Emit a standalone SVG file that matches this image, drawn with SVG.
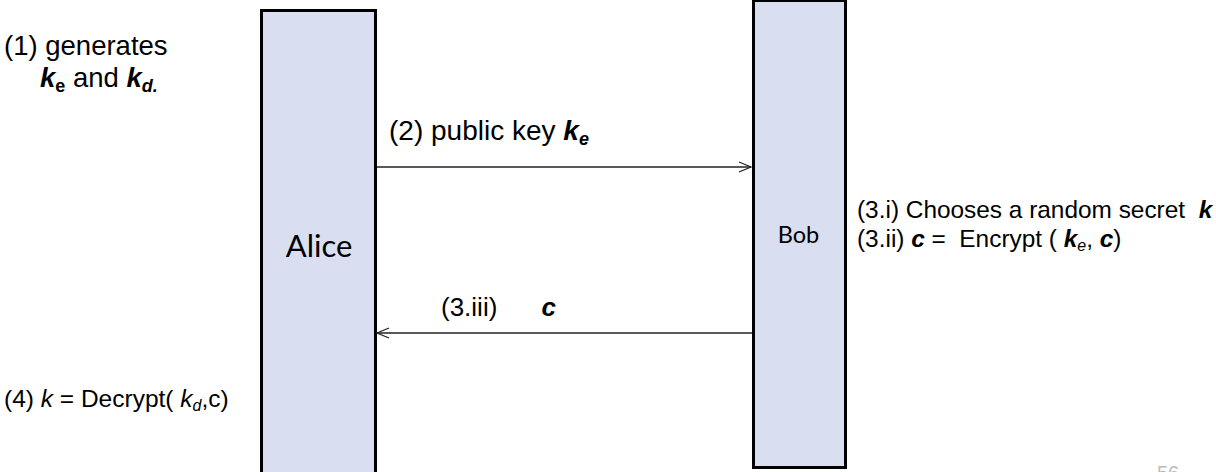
<svg xmlns="http://www.w3.org/2000/svg" width="1216" height="472" viewBox="0 0 1216 472">
<defs>
<style>
.box{fill:#D9DFF1;stroke:#000;stroke-width:3}
.t{font-family:"Liberation Sans",Arial,sans-serif;fill:#000;white-space:pre}
.lbl{font-family:Lato,"Liberation Sans",sans-serif;fill:#000}
.ln{stroke:#222;stroke-width:1.3;fill:none}
.bi{font-weight:bold;font-style:italic}
</style>
<marker id="ah" viewBox="0 0 14 12" refX="13" refY="6" markerWidth="14" markerHeight="12" markerUnits="userSpaceOnUse" orient="auto">
<path d="M1,1 L13,6 L1,11" fill="none" stroke="#222" stroke-width="1.3"/>
</marker>
</defs>
<rect width="1216" height="472" fill="#fff"/>
<g id="alice">
<rect class="box" x="261.5" y="10.5" width="114" height="480"/>
<text class="lbl" x="319" y="257" font-size="31" text-anchor="middle">Alice</text>
</g>
<g id="bob">
<rect class="box" x="753.5" y="0.5" width="92" height="467"/>
<text class="lbl" x="798.5" y="243" font-size="23.5" text-anchor="middle">Bob</text>
</g>
<g id="connectors">
<line class="ln" x1="377" y1="167" x2="751" y2="167" marker-end="url(#ah)"/>
<line class="ln" x1="752" y1="333" x2="377" y2="333" marker-end="url(#ah)"/>
</g>
<g id="notes">
<text class="t" x="4" y="55" font-size="27.5">(1) generates</text>
<text class="t" x="40" y="87" font-size="27.5"><tspan class="bi">k</tspan><tspan font-weight="bold" font-size="18" dy="5">e</tspan><tspan dy="-5"> and </tspan><tspan class="bi">k</tspan><tspan class="bi" font-size="18" dy="5">d.</tspan></text>
<text class="t" x="389" y="140" font-size="28">(2) public key <tspan class="bi">k</tspan><tspan class="bi" font-size="18" dy="5">e</tspan></text>
<text class="t" x="857" y="218" font-size="24.4">(3.i) Chooses a random secret  <tspan class="bi">k</tspan></text>
<text class="t" x="857" y="247" font-size="24.4">(3.ii) <tspan class="bi">c</tspan> =  Encrypt ( <tspan class="bi">k</tspan><tspan font-style="italic" font-size="16" dy="4">e</tspan><tspan dy="-4">, </tspan><tspan class="bi">c</tspan>)</text>
<text class="t" x="441" y="316" font-size="26">(3.iii)     <tspan class="bi" dx="8">c</tspan></text>
<text class="t" x="4" y="407" font-size="24.5">(4) <tspan font-style="italic">k</tspan> = Decrypt( <tspan font-style="italic">k</tspan><tspan font-style="italic" font-size="16" dy="4">d</tspan><tspan dy="-4">,c)</tspan></text>
<text class="t" x="1157" y="480" font-size="20" style="fill:#bbb">56</text>
</g>
</svg>
